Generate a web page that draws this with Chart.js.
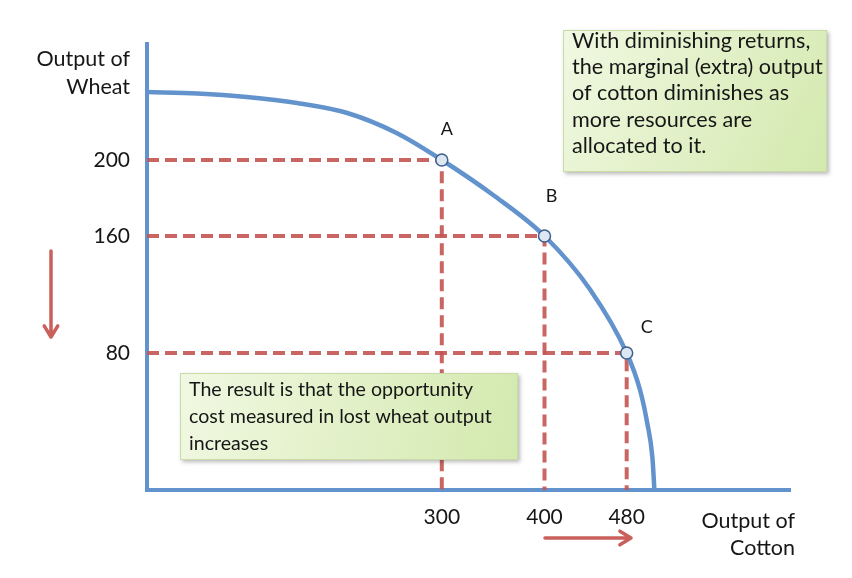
<!DOCTYPE html>
<html>
<head>
<meta charset="utf-8">
<script src="https://cdn.jsdelivr.net/npm/chart.js@4.4.0/dist/chart.umd.min.js"></script>
<style>
    html, body { margin: 0; padding: 0; background: #fff; }
</style>
</head>
<body>
<canvas id="ppf" width="852" height="578"></canvas>
<script>
// fronteira de possibilidades de produção - valores lidos da imagem
// eixo y é esquemático (não linear), por isso guardamos a altura desenhada
const cottonCurve = [13, 62, 110, 159, 208, 256, 300, 350, 400, 444, 480, 493, 500, 505, 507];
const wheatCurve  = [398, 396.5, 393, 387, 377, 357, 330, 295, 254, 201, 137, 100, 67, 33, 0];

const pointNames  = ['A', 'B', 'C'];
const pointCotton = [300, 400, 480];
const pointWheat  = [330, 254, 137];

const xTicks      = [300, 400, 480];
const yTickPos    = [330, 254, 137];
const yTickLabels = ['200', '160', '80'];

const noteTop = ['With diminishing returns,', 'the marginal (extra) output', 'of cotton diminishes as', 'more resources are', 'allocated to it.'];
const noteBottom = ['The result is that the opportunity', 'cost measured in lost wheat output', 'increases'];

const X_MIN = 13, X_MAX = 639, Y_MIN = 0, Y_MAX = 446;
const BLUE = '#6393cd';
const RED = 'rgba(195, 85, 82, 0.9)';
const FONT = 'Lato, "Open Sans", sans-serif';

(function () {
    function drawNote(ctx, x, y, w, h, lines, base, lineH, size) {
        ctx.save();
        ctx.shadowColor = 'rgba(0,0,0,0.28)';
        ctx.shadowBlur = 4;
        ctx.shadowOffsetX = 2;
        ctx.shadowOffsetY = 2;
        const g = ctx.createLinearGradient(x, y, x + w, y + h);
        g.addColorStop(0, '#f1f8e2');
        g.addColorStop(1, '#d3e9ae');
        ctx.fillStyle = g;
        ctx.fillRect(x, y, w, h);
        ctx.shadowColor = 'transparent';
        ctx.strokeStyle = '#c9dca6';
        ctx.lineWidth = 1;
        ctx.strokeRect(x + 0.5, y + 0.5, w - 1, h - 1);
        ctx.fillStyle = '#161616';
        ctx.font = size + 'px ' + FONT;
        ctx.textBaseline = 'alphabetic';
        ctx.textAlign = 'left';
        lines.forEach(function (t, i) { ctx.fillText(t, x + 9, base + i * lineH); });
        ctx.restore();
    }

    function arrow(ctx, x1, y1, x2, y2) {
        const a = Math.atan2(y2 - y1, x2 - x1);
        ctx.save();
        ctx.strokeStyle = '#c9605c';
        ctx.lineWidth = 3.5;
        ctx.lineCap = 'round';
        ctx.lineJoin = 'round';
        ctx.beginPath();
        ctx.moveTo(x1, y1);
        ctx.lineTo(x2, y2);
        ctx.moveTo(x2 - 13 * Math.cos(a - 0.55), y2 - 13 * Math.sin(a - 0.55));
        ctx.lineTo(x2, y2);
        ctx.lineTo(x2 - 13 * Math.cos(a + 0.55), y2 - 13 * Math.sin(a + 0.55));
        ctx.stroke();
        ctx.restore();
    }

    const extras = {
        id: 'extras',
        afterDatasetsDraw: function (chart) {
            const ctx = chart.ctx;
            const xs = chart.scales.x, ys = chart.scales.y;

            // rótulos dos pontos
            ctx.save();
            ctx.fillStyle = '#161616';
            ctx.font = '18px ' + FONT;
            ctx.textAlign = 'center';
            ctx.textBaseline = 'middle';
            const off = [[5, -31], [7, -40], [20, -26]];
            pointNames.forEach(function (n, i) {
                ctx.fillText(n, xs.getPixelForValue(pointCotton[i]) + off[i][0], ys.getPixelForValue(pointWheat[i]) + off[i][1]);
            });

            // títulos dos eixos
            ctx.font = '21.5px ' + FONT;
            ctx.textAlign = 'right';
            ctx.textBaseline = 'alphabetic';
            ctx.fillText('Output of', 130, 66);
            ctx.fillText('Wheat', 130, 94);
            ctx.fillText('Output of', 795, 528);
            ctx.fillText('Cotton', 795, 555);
            ctx.restore();

            drawNote(ctx, 563, 30, 264, 142, noteTop, 48, 26.2, 21.6);
            drawNote(ctx, 180, 373, 338, 87, noteBottom, 396, 27, 19.6);

            arrow(ctx, 51, 251, 51, 337);
            arrow(ctx, 545, 538, 631, 538);
        }
    };

    function createChart() {
        const curve = cottonCurve.map(function (x, i) { return { x: x, y: wheatCurve[i] }; });
        const datasets = [{
            data: curve,
            borderColor: BLUE,
            borderWidth: 4.5,
            pointRadius: 0,
            cubicInterpolationMode: 'monotone',
            order: 2
        }];
        pointCotton.forEach(function (x, i) {
            datasets.push({
                data: [{ x: X_MIN, y: pointWheat[i] }, { x: x, y: pointWheat[i] }, { x: x, y: Y_MIN }],
                borderColor: RED,
                borderWidth: 4,
                borderDash: [12, 6],
                borderCapStyle: 'butt',
                pointRadius: 0,
                tension: 0,
                order: 3
            });
        });
        datasets.push({
            data: pointCotton.map(function (x, i) { return { x: x, y: pointWheat[i] }; }),
            showLine: false,
            pointRadius: 6,
            pointBorderWidth: 1.5,
            pointBackgroundColor: '#dde7f3',
            pointBorderColor: '#3e5f8e',
            order: 1
        });

        return new Chart(document.getElementById('ppf'), {
            type: 'line',
            data: { datasets: datasets },
            options: {
                responsive: false,
                animation: false,
                layout: { padding: { top: 44, right: 62, left: 0, bottom: 0 } },
                plugins: { legend: { display: false }, tooltip: { enabled: false } },
                scales: {
                    x: {
                        type: 'linear',
                        min: X_MIN,
                        max: X_MAX,
                        grid: { display: false, drawTicks: false },
                        border: { display: true, color: BLUE, width: 4 },
                        ticks: { color: '#161616', font: { family: FONT, size: 21 }, padding: 15 },
                        afterBuildTicks: function (s) { s.ticks = xTicks.map(function (v) { return { value: v }; }); },
                        afterFit: function (s) { s.height = 88; }
                    },
                    y: {
                        type: 'linear',
                        min: Y_MIN,
                        max: Y_MAX,
                        grid: { display: false, drawTicks: false },
                        border: { display: true, color: BLUE, width: 4 },
                        ticks: {
                            color: '#161616',
                            font: { family: FONT, size: 21 },
                            padding: 17,
                            callback: function (v) { const k = yTickPos.indexOf(v); return k >= 0 ? yTickLabels[k] : ''; }
                        },
                        afterBuildTicks: function (s) { s.ticks = yTickPos.map(function (v) { return { value: v }; }); },
                        afterFit: function (s) { s.width = 147; }
                    }
                }
            },
            plugins: [extras]
        });
    }

    document.addEventListener('DOMContentLoaded', createChart);
})();
</script>
</body>
</html>
